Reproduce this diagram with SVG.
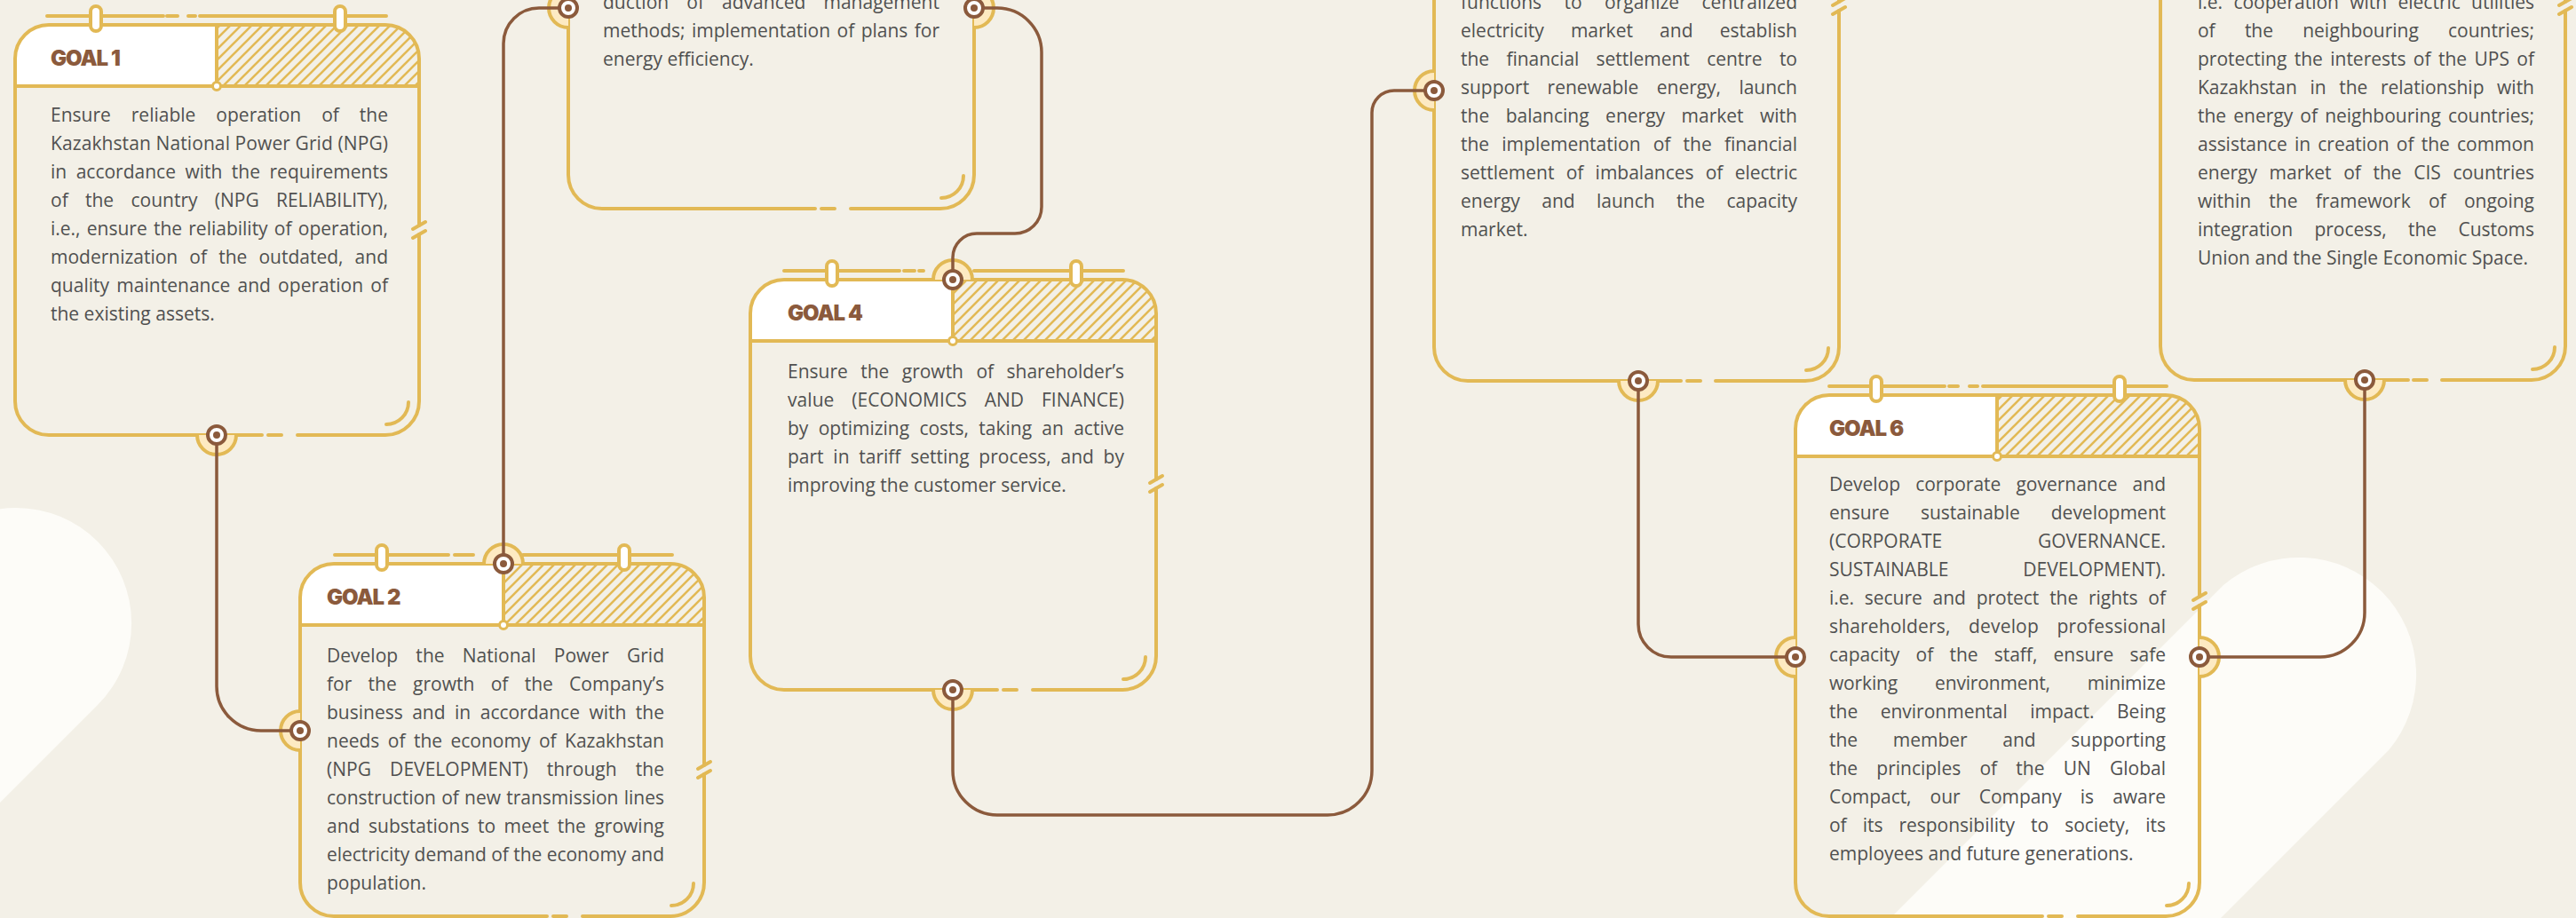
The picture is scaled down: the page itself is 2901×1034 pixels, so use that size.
<svg xmlns="http://www.w3.org/2000/svg" xmlns:xlink="http://www.w3.org/1999/xlink" width="2901" height="1034" viewBox="0 0 2901 1034">
  <style>
    .body { font-family: "Open Sans", "Noto Sans", "Liberation Sans", sans-serif; font-size: 21px; fill: #505050; }
    .hd { font-family: Inter, Roboto, Lato, sans-serif; font-weight: 900; font-size: 24px; fill: #8b5a3c; letter-spacing: -1px; }
    .ln { fill: none; stroke: #e2b955; stroke-width: 4; stroke-linecap: round; stroke-linejoin: round; }
    .cn { fill: none; stroke: #8b5a3c; stroke-width: 3.5; }
    .halo { fill: #fdeac2; stroke: #e2b955; stroke-width: 4; }
    .ring { fill: #ffffff; stroke: #8b5a3c; stroke-width: 4; }
    .dot { fill: #8b5a3c; }
    .peg { fill: #ffffff; stroke: #e2b955; stroke-width: 4; }
    .head { fill: #ffffff; }
    .hatch { fill: url(#hatch); }
    .knot { fill: #ffffff; stroke: #e2b955; stroke-width: 3; }
    .blob { fill: #fdfcf8; }
  </style>
  <defs>
    <pattern id="hatch" patternUnits="userSpaceOnUse" width="12" height="12">
      <path d="M-3 3 L3 -3 M0 12 L12 0 M9 15 L15 9" stroke="#e2b955" stroke-width="2.6"/>
    </pattern>
    <g id="ring"><circle r="10" class="ring"/><circle r="4" class="dot"/></g>
    <rect id="peg" x="-6" y="0" width="12" height="28" rx="6" class="peg"/>
  </defs>

  <!-- page -->
  <rect width="2901" height="1034" fill="#f3f0e7"/>
  <path class="blob" d="M 110 794 L -400 1304 L -584 1120 L -74 610 A 130 130 0 0 1 110 794 Z"/>
  <path class="blob" d="M 2690 845 L 2190 1345 L 2004 1159 L 2504 659 A 132 132 0 0 1 2690 845 Z"/>

  <!-- GOAL 1 -->
  <g id="goal1">
    <path class="head" d="M 17 97 V 66 A 38 38 0 0 1 55 28 H 244 V 97 Z"/>
    <path class="hatch" d="M 244 28 H 434 A 38 38 0 0 1 472 66 V 97 H 244 Z"/>
    <path class="ln" d="M 335 490 H 434 A 38 38 0 0 0 472 452 V 264 M 472 254 V 66 A 38 38 0 0 0 434 28 H 55 A 38 38 0 0 0 17 66 V 452 A 38 38 0 0 0 55 490 H 295 M 302 490 H 317"/>
    <path class="ln" d="M 465 258 L 479 250 M 465 268 L 479 260"/>
    <path class="ln" d="M 17 97 H 472 M 244 28 V 97"/>
    <path class="ln" d="M 53 18 H 184 M 188 18 H 200 M 212 18 H 220 M 225 18 H 435"/>
    <use xlink:href="#peg" x="108" y="7"/>
    <use xlink:href="#peg" x="383" y="7"/>
    <circle class="knot" cx="244" cy="97" r="4.5"/>
    <path class="ln" d="M 460 453 A 25 25 0 0 1 435 478"/>
    <path class="halo" d="M 222 490 A 22 22 0 0 0 266 490"/>
    <text class="hd" x="57" y="74">GOAL 1</text>
    <text class="body" x="57" y="137" word-spacing="17.5" textLength="380" lengthAdjust="spacing">Ensure reliable operation of the</text>
    <text class="body" x="57" y="169" word-spacing="0" textLength="380" lengthAdjust="spacing">Kazakhstan National Power Grid (NPG)</text>
    <text class="body" x="57" y="201" word-spacing="5" textLength="380" lengthAdjust="spacing">in accordance with the requirements</text>
    <text class="body" x="57" y="233" word-spacing="13.8" textLength="380" lengthAdjust="spacing">of the country (NPG RELIABILITY),</text>
    <text class="body" x="57" y="265" word-spacing="1.8" textLength="380" lengthAdjust="spacing">i.e., ensure the reliability of operation,</text>
    <text class="body" x="57" y="297" word-spacing="7.7" textLength="380" lengthAdjust="spacing">modernization of the outdated, and</text>
    <text class="body" x="57" y="329" word-spacing="2.7" textLength="380" lengthAdjust="spacing">quality maintenance and operation of</text>
    <text class="body" x="57" y="361">the existing assets.</text>
  </g>

  <!-- GOAL 2 -->
  <g id="goal2">
    <path class="head" d="M 338 704 V 673 A 38 38 0 0 1 376 635 H 567 V 704 Z"/>
    <path class="hatch" d="M 567 635 H 755 A 38 38 0 0 1 793 673 V 704 H 567 Z"/>
    <path class="ln" d="M 656 1032 H 755 A 38 38 0 0 0 793 994 V 872 M 793 862 V 673 A 38 38 0 0 0 755 635 H 376 A 38 38 0 0 0 338 673 V 994 A 38 38 0 0 0 376 1032 H 616 M 623 1032 H 638"/>
    <path class="ln" d="M 786 866 L 800 858 M 786 876 L 800 868"/>
    <path class="ln" d="M 338 704 H 793 M 567 635 V 704"/>
    <path class="ln" d="M 377 625 H 505 M 512 625 H 533 M 589 625 H 757"/>
    <use xlink:href="#peg" x="430" y="614"/>
    <use xlink:href="#peg" x="703" y="614"/>
    <circle class="knot" cx="567" cy="704" r="4.5"/>
    <path class="ln" d="M 781 995 A 25 25 0 0 1 756 1020"/>
    <path class="halo" d="M 545 635 A 22 22 0 0 1 589 635"/>
    <path class="halo" d="M 338 801 A 22 22 0 0 0 338 845"/>
    <text class="hd" x="368" y="681">GOAL 2</text>
    <text class="body" x="368" y="746" word-spacing="14.7" textLength="380" lengthAdjust="spacing">Develop the National Power Grid</text>
    <text class="body" x="368" y="778" word-spacing="12.8" textLength="380" lengthAdjust="spacing">for the growth of the Company’s</text>
    <text class="body" x="368" y="810" word-spacing="5" textLength="380" lengthAdjust="spacing">business and in accordance with the</text>
    <text class="body" x="368" y="842" word-spacing="4" textLength="380" lengthAdjust="spacing">needs of the economy of Kazakhstan</text>
    <text class="body" x="368" y="874" word-spacing="15.6" textLength="380" lengthAdjust="spacing">(NPG DEVELOPMENT) through the</text>
    <text class="body" x="368" y="906" word-spacing="0.7" textLength="380" lengthAdjust="spacing">construction of new transmission lines</text>
    <text class="body" x="368" y="938" word-spacing="4" textLength="380" lengthAdjust="spacing">and substations to meet the growing</text>
    <text class="body" x="368" y="970" word-spacing="0" textLength="380" lengthAdjust="spacing">electricity demand of the economy and</text>
    <text class="body" x="368" y="1002">population.</text>
  </g>

  <!-- GOAL 3 (header runs above the page edge) -->
  <g id="goal3">
    <path class="ln" d="M 958 235 H 1059 A 38 38 0 0 0 1097 197 V -240 M 640 -240 V 197 A 38 38 0 0 0 678 235 H 918 M 925 235 H 940"/>
    <path class="ln" d="M 1085 198 A 25 25 0 0 1 1060 223"/>
    <path class="halo" d="M 640 -13 A 22 22 0 0 0 640 31"/>
    <path class="halo" d="M 1097 -13 A 22 22 0 0 1 1097 31"/>
    <text class="body" x="679" y="10" word-spacing="14.6" textLength="379" lengthAdjust="spacing">duction of advanced management</text>
    <text class="body" x="679" y="42" word-spacing="2" textLength="379" lengthAdjust="spacing">methods; implementation of plans for</text>
    <text class="body" x="679" y="74">energy efficiency.</text>
  </g>

  <!-- GOAL 4 -->
  <g id="goal4">
    <path class="head" d="M 845 384 V 353 A 38 38 0 0 1 883 315 H 1073 V 384 Z"/>
    <path class="hatch" d="M 1073 315 H 1264 A 38 38 0 0 1 1302 353 V 384 H 1073 Z"/>
    <path class="ln" d="M 1163 777 H 1264 A 38 38 0 0 0 1302 739 V 550 M 1302 540 V 353 A 38 38 0 0 0 1264 315 H 883 A 38 38 0 0 0 845 353 V 739 A 38 38 0 0 0 883 777 H 1123 M 1130 777 H 1145"/>
    <path class="ln" d="M 1295 544 L 1309 536 M 1295 554 L 1309 546"/>
    <path class="ln" d="M 845 384 H 1302 M 1073 315 V 384"/>
    <path class="ln" d="M 883 305 H 1013 M 1018 305 H 1030 M 1035 305 H 1040 M 1097 305 H 1265"/>
    <use xlink:href="#peg" x="937" y="294"/>
    <use xlink:href="#peg" x="1212" y="294"/>
    <circle class="knot" cx="1073" cy="384" r="4.5"/>
    <path class="ln" d="M 1290 740 A 25 25 0 0 1 1265 765"/>
    <path class="halo" d="M 1051 315 A 22 22 0 0 1 1095 315"/>
    <path class="halo" d="M 1051 777 A 22 22 0 0 0 1095 777"/>
    <text class="hd" x="887" y="361">GOAL 4</text>
    <text class="body" x="887" y="426" word-spacing="9" textLength="379" lengthAdjust="spacing">Ensure the growth of shareholder’s</text>
    <text class="body" x="887" y="458" word-spacing="14.3" textLength="379" lengthAdjust="spacing">value (ECONOMICS AND FINANCE)</text>
    <text class="body" x="887" y="490" word-spacing="5.8" textLength="379" lengthAdjust="spacing">by optimizing costs, taking an active</text>
    <text class="body" x="887" y="522" word-spacing="5.3" textLength="379" lengthAdjust="spacing">part in tariff setting process, and by</text>
    <text class="body" x="887" y="554">improving the customer service.</text>
  </g>

  <!-- GOAL 5 (header runs above the page edge) -->
  <g id="goal5">
    <path class="ln" d="M 1932 429 H 2033 A 38 38 0 0 0 2071 391 V 12 M 2071 2 V -224 M 1615 -224 V 391 A 38 38 0 0 0 1653 429 H 1893 M 1900 429 H 1915"/>
    <path class="ln" d="M 2064 6 L 2078 -2 M 2064 16 L 2078 8"/>
    <path class="ln" d="M 2059 392 A 25 25 0 0 1 2034 417"/>
    <path class="halo" d="M 1615 80 A 22 22 0 0 0 1615 124"/>
    <path class="halo" d="M 1823 429 A 22 22 0 0 0 1867 429"/>
    <text class="body" x="1645" y="10" word-spacing="20" textLength="379" lengthAdjust="spacing">functions to organize centralized</text>
    <text class="body" x="1645" y="42" word-spacing="24.7" textLength="379" lengthAdjust="spacing">electricity market and establish</text>
    <text class="body" x="1645" y="74" word-spacing="13.9" textLength="379" lengthAdjust="spacing">the financial settlement centre to</text>
    <text class="body" x="1645" y="106" word-spacing="15" textLength="379" lengthAdjust="spacing">support renewable energy, launch</text>
    <text class="body" x="1645" y="138" word-spacing="13" textLength="379" lengthAdjust="spacing">the balancing energy market with</text>
    <text class="body" x="1645" y="170" word-spacing="8.7" textLength="379" lengthAdjust="spacing">the implementation of the financial</text>
    <text class="body" x="1645" y="202" word-spacing="7.8" textLength="379" lengthAdjust="spacing">settlement of imbalances of electric</text>
    <text class="body" x="1645" y="234" word-spacing="19" textLength="379" lengthAdjust="spacing">energy and launch the capacity</text>
    <text class="body" x="1645" y="266">market.</text>
  </g>

  <!-- GOAL 6 -->
  <g id="goal6">
    <path class="head" d="M 2022 514 V 483 A 38 38 0 0 1 2060 445 H 2249 V 514 Z"/>
    <path class="hatch" d="M 2249 445 H 2439 A 38 38 0 0 1 2477 483 V 514 H 2249 Z"/>
    <path class="ln" d="M 2340 1032 H 2439 A 38 38 0 0 0 2477 994 V 682 M 2477 672 V 483 A 38 38 0 0 0 2439 445 H 2060 A 38 38 0 0 0 2022 483 V 994 A 38 38 0 0 0 2060 1032 H 2300 M 2307 1032 H 2322"/>
    <path class="ln" d="M 2470 676 L 2484 668 M 2470 686 L 2484 678"/>
    <path class="ln" d="M 2022 514 H 2477 M 2249 445 V 514"/>
    <path class="ln" d="M 2060 435 H 2190 M 2195 435 H 2205 M 2218 435 H 2227 M 2233 435 H 2440"/>
    <use xlink:href="#peg" x="2113" y="424"/>
    <use xlink:href="#peg" x="2387" y="424"/>
    <circle class="knot" cx="2249" cy="514" r="4.5"/>
    <path class="ln" d="M 2465 995 A 25 25 0 0 1 2440 1020"/>
    <path class="halo" d="M 2022 718 A 22 22 0 0 0 2022 762"/>
    <path class="halo" d="M 2477 718 A 22 22 0 0 1 2477 762"/>
    <text class="hd" x="2060" y="491">GOAL 6</text>
    <text class="body" x="2060" y="553" word-spacing="11.7" textLength="379" lengthAdjust="spacing">Develop corporate governance and</text>
    <text class="body" x="2060" y="585" word-spacing="29.6" textLength="379" lengthAdjust="spacing">ensure sustainable development</text>
    <text class="body" x="2060" y="617">(CORPORATE</text>
    <text class="body" x="2439" y="617" text-anchor="end">GOVERNANCE.</text>
    <text class="body" x="2060" y="649">SUSTAINABLE</text>
    <text class="body" x="2439" y="649" text-anchor="end">DEVELOPMENT).</text>
    <text class="body" x="2060" y="681" word-spacing="6.4" textLength="379" lengthAdjust="spacing">i.e. secure and protect the rights of</text>
    <text class="body" x="2060" y="713" word-spacing="15" textLength="379" lengthAdjust="spacing">shareholders, develop professional</text>
    <text class="body" x="2060" y="745" word-spacing="12.9" textLength="379" lengthAdjust="spacing">capacity of the staff, ensure safe</text>
    <text class="body" x="2060" y="777" word-spacing="36.7" textLength="379" lengthAdjust="spacing">working environment, minimize</text>
    <text class="body" x="2060" y="809" word-spacing="20" textLength="379" lengthAdjust="spacing">the environmental impact. Being</text>
    <text class="body" x="2060" y="841" word-spacing="34.3" textLength="379" lengthAdjust="spacing">the member and supporting</text>
    <text class="body" x="2060" y="873" word-spacing="15.8" textLength="379" lengthAdjust="spacing">the principles of the UN Global</text>
    <text class="body" x="2060" y="905" word-spacing="15.7" textLength="379" lengthAdjust="spacing">Compact, our Company is aware</text>
    <text class="body" x="2060" y="937" word-spacing="12.6" textLength="379" lengthAdjust="spacing">of its responsibility to society, its</text>
    <text class="body" x="2060" y="969">employees and future generations.</text>
  </g>

  <!-- GOAL 7 (header runs above the page edge) -->
  <g id="goal7">
    <path class="ln" d="M 2750 428 H 2851 A 38 38 0 0 0 2889 390 V 12 M 2889 2 V -224 M 2433 -224 V 390 A 38 38 0 0 0 2471 428 H 2712 M 2718 428 H 2733"/>
    <path class="ln" d="M 2882 6 L 2896 -2 M 2882 16 L 2896 8"/>
    <path class="ln" d="M 2877 391 A 25 25 0 0 1 2852 416"/>
    <path class="halo" d="M 2641 428 A 22 22 0 0 0 2685 428"/>
    <text class="body" x="2475" y="10" word-spacing="6.8" textLength="379" lengthAdjust="spacing">i.e. cooperation with electric utilities</text>
    <text class="body" x="2475" y="42" word-spacing="27.8" textLength="379" lengthAdjust="spacing">of the neighbouring countries;</text>
    <text class="body" x="2475" y="74" word-spacing="3" textLength="379" lengthAdjust="spacing">protecting the interests of the UPS of</text>
    <text class="body" x="2475" y="106" word-spacing="9.2" textLength="379" lengthAdjust="spacing">Kazakhstan in the relationship with</text>
    <text class="body" x="2475" y="138" word-spacing="2.7" textLength="379" lengthAdjust="spacing">the energy of neighbouring countries;</text>
    <text class="body" x="2475" y="170" word-spacing="2.8" textLength="379" lengthAdjust="spacing">assistance in creation of the common</text>
    <text class="body" x="2475" y="202" word-spacing="8.2" textLength="379" lengthAdjust="spacing">energy market of the CIS countries</text>
    <text class="body" x="2475" y="234" word-spacing="14.8" textLength="379" lengthAdjust="spacing">within the framework of ongoing</text>
    <text class="body" x="2475" y="266" word-spacing="19" textLength="379" lengthAdjust="spacing">integration process, the Customs</text>
    <text class="body" x="2475" y="298">Union and the Single Economic Space.</text>
  </g>

  <!-- connectors -->
  <g id="connectors">
    <path class="cn" d="M 244 490 V 773 A 50 50 0 0 0 294 823 H 338"/>
    <path class="cn" d="M 567 635 V 49 A 40 40 0 0 1 607 9 H 640"/>
    <path class="cn" d="M 1097 9 H 1123 A 50 50 0 0 1 1173 59 V 233 A 30 30 0 0 1 1143 263 H 1100 A 27 27 0 0 0 1073 290 V 315"/>
    <path class="cn" d="M 1073 777 V 868 A 50 50 0 0 0 1123 918 H 1495 A 50 50 0 0 0 1545 868 V 127 A 25 25 0 0 1 1570 102 H 1615"/>
    <path class="cn" d="M 1845 429 V 703 A 37 37 0 0 0 1882 740 H 2022"/>
    <path class="cn" d="M 2477 740 H 2613 A 50 50 0 0 0 2663 690 V 428"/>
  </g>

  <!-- connector end points -->
  <g id="ports">
    <use xlink:href="#ring" x="244" y="490"/>
    <use xlink:href="#ring" x="338" y="823"/>
    <use xlink:href="#ring" x="567" y="635"/>
    <use xlink:href="#ring" x="640" y="9"/>
    <use xlink:href="#ring" x="1097" y="9"/>
    <use xlink:href="#ring" x="1073" y="315"/>
    <use xlink:href="#ring" x="1073" y="777"/>
    <use xlink:href="#ring" x="1615" y="102"/>
    <use xlink:href="#ring" x="1845" y="429"/>
    <use xlink:href="#ring" x="2022" y="740"/>
    <use xlink:href="#ring" x="2477" y="740"/>
    <use xlink:href="#ring" x="2663" y="428"/>
  </g>
</svg>
